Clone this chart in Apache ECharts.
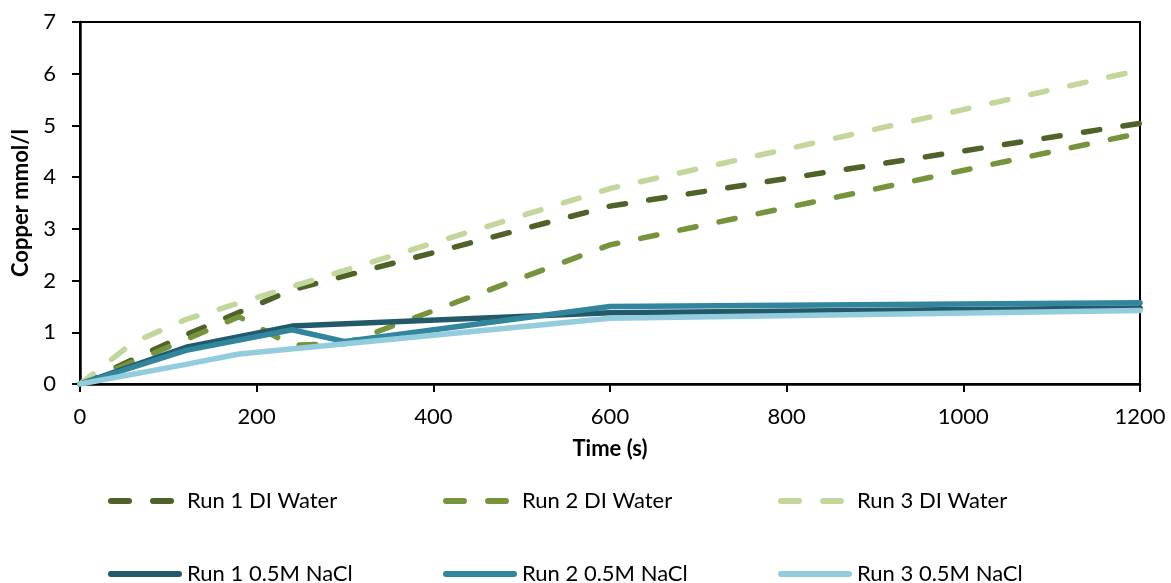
<!DOCTYPE html>
<html>
<head>
<meta charset="utf-8">
<script src="https://cdn.jsdelivr.net/npm/echarts@6/dist/echarts.min.js"></script>
<style>
  html, body { margin: 0; padding: 0; background: #fff; }
  #chart { width: 1171px; height: 583px; }
</style>
</head>
<body>
<div id="chart"></div>
<script>
// ---- Data ----
const seriesNames = ['Run 1 DI Water', 'Run 2 DI Water', 'Run 3 DI Water',
                     'Run 1 0.5M NaCl', 'Run 2 0.5M NaCl', 'Run 3 0.5M NaCl'];
const run1DI_time   = [0, 120, 240, 600, 1200];
const run1DI_cu     = [0, 0.95, 1.82, 3.44, 5.04];
const run2DI_time   = [0, 120, 180, 240, 300, 600, 1200];
const run2DI_cu     = [0, 0.86, 1.30, 0.75, 0.78, 2.69, 4.85];
const run3DI_time   = [0, 60, 120, 600, 1200];
const run3DI_cu     = [0, 0.80, 1.25, 3.78, 6.07];
const run1NaCl_time = [0, 120, 240, 600, 1200];
const run1NaCl_cu   = [0, 0.71, 1.12, 1.38, 1.47];
const run2NaCl_time = [0, 120, 240, 300, 600, 1200];
const run2NaCl_cu   = [0, 0.65, 1.05, 0.82, 1.50, 1.57];
const run3NaCl_time = [0, 120, 180, 600, 1200];
const run3NaCl_cu   = [0, 0.38, 0.58, 1.27, 1.42];
const xTicks = [0, 200, 400, 600, 800, 1000, 1200];
const yTicks = [0, 1, 2, 3, 4, 5, 6, 7];

const colors = ['#4f6228', '#77933c', '#c3d69b', '#235a6a', '#31859c', '#93cddd'];
const dashed = [true, true, true, false, false, false];
const times = [run1DI_time, run2DI_time, run3DI_time, run1NaCl_time, run2NaCl_time, run3NaCl_time];
const values = [run1DI_cu, run2DI_cu, run3DI_cu, run1NaCl_cu, run2NaCl_cu, run3NaCl_cu];

const FONT = 'Lato';
const pair = (t, v) => t.map((x, i) => [x, v[i]]);

const series = seriesNames.map((name, i) => ({
  name: name,
  type: 'line',
  data: pair(times[i], values[i]),
  showSymbol: false,
  symbol: 'none',
  animation: false,
  lineStyle: {
    color: colors[i],
    width: 5.5,
    type: dashed[i] ? [16.5, 23.5] : 'solid',
    cap: 'round',
    join: 'round'
  },
  itemStyle: { color: colors[i] }
}));

// legend icons: two rounded dashes, or one rounded bar
const dashIcon = 'path://M3,0 H21 A3,3 0 0 1 21,6 H3 A3,3 0 0 1 3,0 Z M45,0 H63 A3,3 0 0 1 63,6 H45 A3,3 0 0 1 45,0 Z';
const solidIcon = 'path://M3,0 H71 A3,3 0 0 1 71,6 H3 A3,3 0 0 1 3,0 Z';

const legendPos = [
  { left: 108, top: 490 }, { left: 443, top: 490 }, { left: 778, top: 490 },
  { left: 108, top: 563 }, { left: 443, top: 563 }, { left: 778, top: 563 }
];
const legends = seriesNames.map((name, i) => ({
  data: [{ name: name, icon: dashed[i] ? dashIcon : solidIcon }],
  left: legendPos[i].left,
  top: legendPos[i].top,
  padding: 0,
  itemWidth: dashed[i] ? 66 : 74,
  itemHeight: 6,
  selectedMode: false,
  itemStyle: { color: colors[i], borderWidth: 0 },
  textStyle: {
    fontFamily: FONT, fontSize: 22, color: '#000',
    padding: [0, 0, 0, dashed[i] ? 8 : 0]
  }
}));

const chart = echarts.init(document.getElementById('chart'), null, { renderer: 'canvas' });
chart.setOption({
  animation: false,
  backgroundColor: '#fff',
  grid: {
    left: 80, right: 31, top: 22, bottom: 199,
    show: true, borderColor: '#000', borderWidth: 2, backgroundColor: 'transparent'
  },
  legend: legends,
  xAxis: {
    type: 'value',
    min: xTicks[0], max: xTicks[xTicks.length - 1], interval: 200,
    name: 'Time (s)',
    nameLocation: 'middle',
    nameGap: 54,
    nameTextStyle: { fontFamily: FONT, fontSize: 22, fontWeight: 'bold', color: '#000' },
    axisLine: { show: true, lineStyle: { color: '#000', width: 2.5 } },
    axisTick: { show: true, inside: false, length: 8, lineStyle: { color: '#000', width: 2 } },
    axisLabel: { margin: 22, fontFamily: FONT, fontSize: 22, color: '#000',
                 formatter: v => String(v) },
    splitLine: { show: false }
  },
  yAxis: {
    type: 'value',
    min: yTicks[0], max: yTicks[yTicks.length - 1], interval: 1,
    name: 'Copper mmol/l',
    nameLocation: 'middle',
    nameGap: 40,
    nameTextStyle: { fontFamily: FONT, fontSize: 22, fontWeight: 'bold', color: '#000' },
    axisLine: { show: true, lineStyle: { color: '#000', width: 2.5 } },
    axisTick: { show: true, inside: false, length: 8, lineStyle: { color: '#000', width: 2 } },
    axisLabel: { margin: 24, fontFamily: FONT, fontSize: 22, color: '#000',
                 formatter: v => String(v) },
    splitLine: { show: false }
  },
  series: series
});
</script>
</body>
</html>
